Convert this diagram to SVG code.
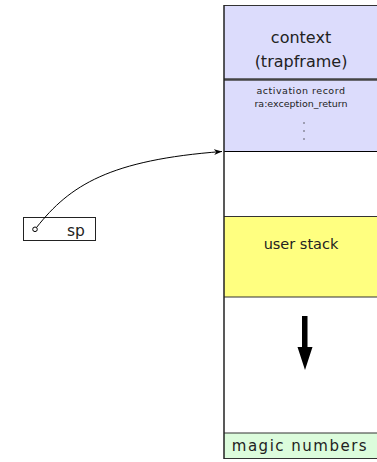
<svg xmlns="http://www.w3.org/2000/svg" width="377" height="462" viewBox="0 0 377 462">
  <style>
    .lbl { font-family: "DejaVu Sans", "Liberation Sans", sans-serif; fill: #222; text-anchor: middle; }
    .big { font-size: 16px; }
    .small { font-size: 9.5px; }
    .sep { stroke: #333; stroke-width: 1.2; }
  </style>
  <defs>
    <marker id="tip" viewBox="0 0 10 10" refX="10" refY="5" markerWidth="8" markerHeight="8" markerUnits="userSpaceOnUse" orient="auto">
      <path d="M0,1.5 L10,5 L0,8.5 L3,5 Z" fill="#000"/>
    </marker>
  </defs>

  <rect width="377" height="462" fill="#fff"/>

  <!-- stack frames -->
  <g id="context">
    <rect x="224" y="5.5" width="153" height="73.5" fill="#dcdcfc"/>
    <line class="sep" x1="224" y1="5.5" x2="377" y2="5.5"/>
    <text class="lbl big" x="301" y="43">context</text>
    <text class="lbl big" x="301" y="67">(trapframe)</text>
  </g>
  <g id="activation">
    <rect x="224" y="79" width="153" height="72" fill="#dcdcfc"/>
    <line x1="224" y1="79.5" x2="377" y2="79.5" stroke="#444" stroke-width="2.5"/>
    <text class="lbl small" x="301" y="93.5" letter-spacing="0.5">activation record</text>
    <text class="lbl small" x="301" y="106.5">ra:exception_return</text>
    <circle cx="304" cy="123" r="0.7" fill="#333"/>
    <circle cx="304" cy="131" r="0.7" fill="#333"/>
    <circle cx="304" cy="139" r="0.7" fill="#333"/>
  </g>
  <g id="free">
    <line x1="224" y1="151.5" x2="377" y2="151.5" stroke="#000" stroke-width="1"/>
  </g>
  <g id="userstack">
    <rect x="224" y="216.5" width="153" height="80.5" fill="#ffff80"/>
    <line class="sep" x1="224" y1="216.5" x2="377" y2="216.5"/>
    <line class="sep" x1="224" y1="297" x2="377" y2="297"/>
    <text class="lbl" x="301" y="249" font-size="14.5">user stack</text>
  </g>
  <g id="growth">
    <path d="M302,316 H307.5 V347 H312.5 L305,370 L297.5,347 H302 Z" fill="#000"/>
  </g>
  <g id="magic">
    <rect x="224" y="433" width="153" height="25.5" fill="#dcfcdc"/>
    <line class="sep" x1="224" y1="433" x2="377" y2="433"/>
    <line class="sep" x1="224" y1="458.5" x2="377" y2="458.5"/>
    <text class="lbl" x="300" y="451" font-size="15" letter-spacing="1.5">magic numbers</text>
  </g>
  <line x1="224" y1="5" x2="224" y2="459" stroke="#222" stroke-width="1.5"/>

  <!-- stack pointer register -->
  <g id="sp">
    <rect x="23.5" y="217.5" width="72" height="23" fill="#fff" stroke="#222" stroke-width="1"/>
    <text class="lbl" x="76" y="235.5" font-size="15.5">sp</text>
  </g>

  <g id="connectors">
    <path d="M36.5,227.5 C70,185 110,160 222,151.5" fill="none" stroke="#000" stroke-width="1" marker-end="url(#tip)"/>
    <circle cx="35" cy="229.3" r="2.3" fill="#fff" stroke="#000" stroke-width="1"/>
  </g>
</svg>
